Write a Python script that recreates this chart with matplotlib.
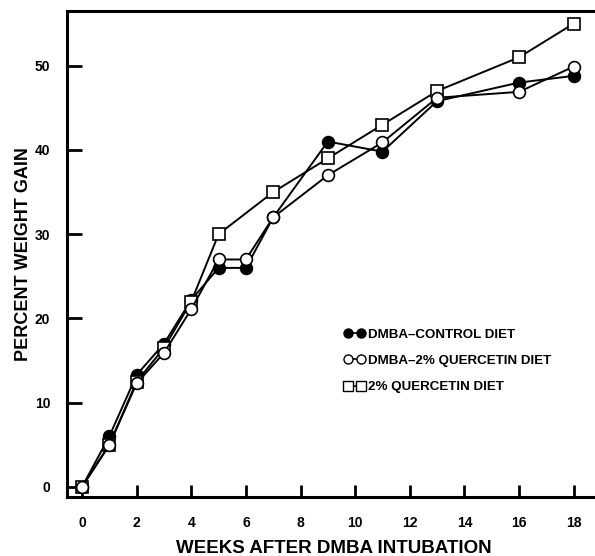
import matplotlib.pyplot as plt
from matplotlib.lines import Line2D

plt.rcParams['font.family'] = ['Liberation Sans', 'DejaVu Sans']
plt.rcParams['font.weight'] = 'bold'

weeks_ctrl = [0, 1, 2, 3, 4, 5, 6, 7, 9, 11, 13, 16, 18]
ctrl = [0, 6, 13.3, 17, 22.2, 26, 26, 32, 41, 39.8, 45.8, 48, 48.8]

weeks_dq = [0, 1, 2, 3, 4, 5, 6, 7, 9, 11, 13, 16, 18]
dmba_q = [0, 5, 12.3, 15.9, 21.1, 27, 27, 32, 37, 40.9, 46.2, 46.9, 49.9]

weeks_q = [0, 1, 2, 3, 4, 5, 7, 9, 11, 13, 16, 18]
quer = [0, 5, 12.5, 16.5, 22, 30, 35, 39, 43, 47, 51, 55]

labels = ['DMBA\u2013CONTROL DIET', 'DMBA\u20132% QUERCETIN DIET', '2% QUERCETIN DIET']

fig = plt.figure(figsize=(5.95, 5.56), dpi=100)
ax = fig.add_axes([67/595, 1 - 497/556, 1 - 67/595 + 0.01, (497 - 11)/556])

lw = 1.4
ax.plot(weeks_q, quer, '-', color='black', lw=lw, marker='s', ms=8,
        mfc='white', mec='black', mew=1.2, zorder=2)
ax.plot(weeks_dq, dmba_q, '-', color='black', lw=lw, marker='o', ms=8.5,
        mfc='white', mec='black', mew=1.2, zorder=3)
ax.plot(weeks_ctrl, ctrl, '-', color='black', lw=lw, marker='o', ms=8.5,
        mfc='black', mec='black', mew=1.2, zorder=1)

ax.set_xlim(-0.55, 19.0)
ax.set_ylim(-1.2, 56.5)
ax.set_xticks(range(0, 19, 2))
ax.set_yticks(range(0, 51, 10))
ax.tick_params(axis='both', direction='in', width=2, labelsize=10)
ax.tick_params(axis='x', length=9, pad=14)
ax.tick_params(axis='y', length=11, pad=12)
for side in ['left', 'top', 'bottom']:
    ax.spines[side].set_linewidth(2.2)
ax.spines['right'].set_visible(False)

ax.set_xlabel('WEEKS AFTER DMBA INTUBATION', fontsize=13.5, fontweight='bold', labelpad=7)
ax.set_ylabel('PERCENT WEIGHT GAIN', fontsize=13, fontweight='bold', labelpad=2)

handles = [
    Line2D([], [], color='black', lw=1.2, marker='o', ms=6.5, mfc='black', mec='black'),
    Line2D([], [], color='black', lw=1.2, marker='o', ms=6.5, mfc='white', mec='black'),
    Line2D([], [], color='black', lw=1.2, marker='s', ms=6.5, mfc='white', mec='black'),
]
leg = ax.legend(handles, labels, loc='upper left', bbox_to_anchor=(0.518, 0.347),
                frameon=False, numpoints=2, handlelength=1.6, handletextpad=0.2,
                labelspacing=1.05, borderpad=0, borderaxespad=0,
                prop={'size': 9.6, 'weight': 'bold'})

fig.savefig('out.png', dpi=100)
